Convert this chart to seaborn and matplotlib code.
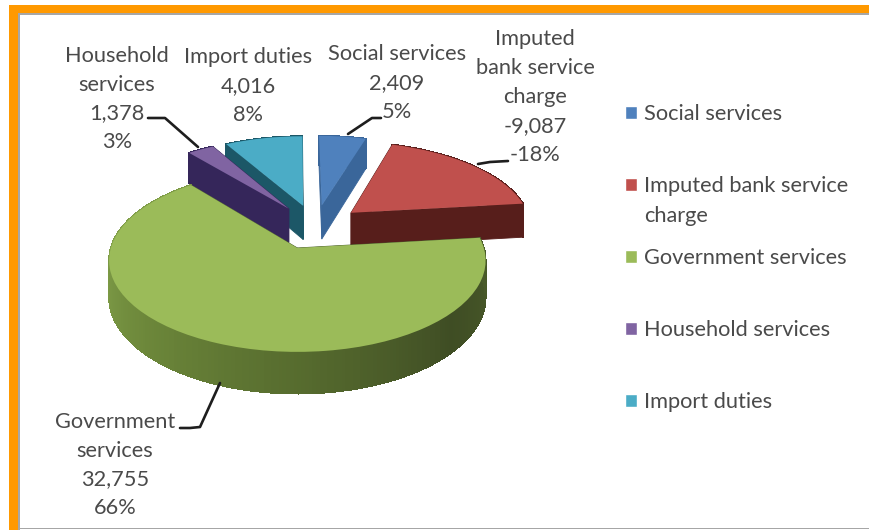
import numpy as np
import matplotlib
matplotlib.use("Agg")
import matplotlib.pyplot as plt
import seaborn as sns
from matplotlib.colors import LinearSegmentedColormap
from matplotlib.patches import Patch, Rectangle
from matplotlib.transforms import Transform

# Chart data
categories = ["Social services", "Imputed bank service charge",
              "Government services", "Household services", "Import duties"]
values = [2409, -9087, 32755, 1378, 4016]
label_names = ["Social services", "Imputed\nbank service\ncharge",
               "Government\nservices", "Household\nservices", "Import duties"]
legend_names = ["Social services", "Imputed bank service",
                "Government services", "Household services", "Import duties"]
legend_wrap = "charge"

# Styling
top_colors = ["#4F81BD", "#C0504D", "#9BBB59", "#8064A2", "#4BACC6"]
cut_colors = ["#3A669A", "#571E1B", "#4E6130", "#35265A", "#1C5767"]
green_wall = ["#7C9945", "#82A04A", "#6C873A", "#566B2E", "#3F4D24", "#4A5C2A"]
text_color = "#4A4A4A"
FONT = 15.7

sns.set_theme(style="white")
plt.rcParams["font.family"] = ["Lato", "DejaVu Sans"]

EXPLODE = 0.265
CX, CY, RX, RY, K, DEPTH = 297.5, 248.0, 186.5, 89.7, 0.137, 36.0
U0, V0 = -0.099, -0.246


def project(u, v, h=0.0):
    """Tilted-disc projection from pie coordinates to figure pixels."""
    du, dv = np.asarray(u) - U0, np.asarray(v) - V0
    s = 1.0 / (1.0 + K * dv)
    return CX + RX * du * s, CY - RY * dv * s + h * s


class TiltedPie(Transform):
    input_dims = output_dims = 2
    is_separable = False
    has_inverse = False

    def transform_non_affine(self, xy):
        xy = np.asarray(xy)
        return np.column_stack(project(xy[:, 0], xy[:, 1]))


fig = plt.figure(figsize=(8.7, 5.3), dpi=100, facecolor="white")
ax = fig.add_axes([0, 0, 1, 1])
magnitudes = np.abs(values)
wedges, _ = ax.pie(magnitudes, explode=[EXPLODE] * len(values), colors=top_colors,
                   startangle=90, counterclock=False, radius=1.0,
                   wedgeprops={"linewidth": 0})
ax.set_aspect("auto")
ax.set_xlim(0, 870)
ax.set_ylim(530, 0)
ax.axis("off")
tilted = TiltedPie() + ax.transData
wall_map = LinearSegmentedColormap.from_list("wall", green_wall)


def quad(p_u, p_v, q_u, q_v, color, z, smooth=True):
    """Vertical face standing on the pie edge between two disc points."""
    x0, y0 = project(p_u, p_v)
    x1, y1 = project(q_u, q_v)
    x2, y2 = project(q_u, q_v, DEPTH)
    x3, y3 = project(p_u, p_v, DEPTH)
    ax.fill([x0, x1, x2, x3], [y0, y1, y2, y3], color=color, lw=0.6, zorder=z,
            antialiased=smooth)


# Back slices first, the large front slice last
draw_order = [4, 0, 3, 1, 2]
for rank, i in enumerate(draw_order):
    w = wedges[i]
    z = 2 + rank
    cu, cv = w.center
    t = np.radians(np.linspace(w.theta1, w.theta2, 240))
    u, v = cu + w.r * np.cos(t), cv + w.r * np.sin(t)
    for j in range(len(t) - 1):
        shade = wall_map(j / (len(t) - 2)) if i == 2 else cut_colors[i]
        quad(u[j], v[j], u[j + 1], v[j + 1], shade, z, smooth=False)
    quad(cu, cv, u[0], v[0], cut_colors[i], z)
    quad(cu, cv, u[-1], v[-1], cut_colors[i], z)
    w.set_transform(tilted)
    w.set_zorder(z + 0.5)

# Data labels
total = magnitudes.sum()
label_pos = [(397, 83), (535, 97), (115, 465), (117, 99), (248, 86)]
for name, val, (lx, ly) in zip(label_names, values, label_pos):
    pct = round(val / total * 100)
    ax.text(lx, ly, f"{name}\n{val:,}\n{pct}%", ha="center", va="center",
            fontsize=FONT, color=text_color, linespacing=1.55, zorder=12)

# Leader lines
leaders = [([348, 372, 381], [134, 118, 118]),
           ([478, 490, 508], [164, 162, 161]),
           ([220, 200, 190, 180], [383, 427, 428, 428]),
           ([198, 165, 148], [147, 118, 118])]
for lx, ly in leaders:
    ax.plot(lx, ly, color="#1E1E1E", lw=1.9, zorder=11, solid_capstyle="round")

# Legend, one block per entry so each row keeps its own spacing
legend_rows = [114, 186, 258, 330, 402]
for name, color, row in zip(legend_names, top_colors, legend_rows):
    fig.legend(handles=[Patch(facecolor=color)], labels=[name], loc="center left",
               bbox_to_anchor=(625 / 870, 1 - row / 530), frameon=False,
               fontsize=FONT, labelcolor=text_color, handlelength=0.55,
               handleheight=0.55, handletextpad=0.33, borderpad=0, borderaxespad=0,
               labelspacing=0)
ax.text(644, 216, legend_wrap, ha="left", va="center", fontsize=FONT, color=text_color)

# Picture frame
for rect in [(9, 5, 861, 8), (9, 5, 9, 525)]:
    ax.add_patch(Rectangle(rect[:2], rect[2], rect[3], color="#FF9900", lw=0, zorder=1))
for rect in [(18, 13, 852, 1.6), (18, 13, 1.6, 517), (18, 527.5, 852, 1.5)]:
    ax.add_patch(Rectangle(rect[:2], rect[2], rect[3], color="#A6A6A6", lw=0, zorder=1))

fig.savefig("out.png", dpi=100, facecolor="white")
